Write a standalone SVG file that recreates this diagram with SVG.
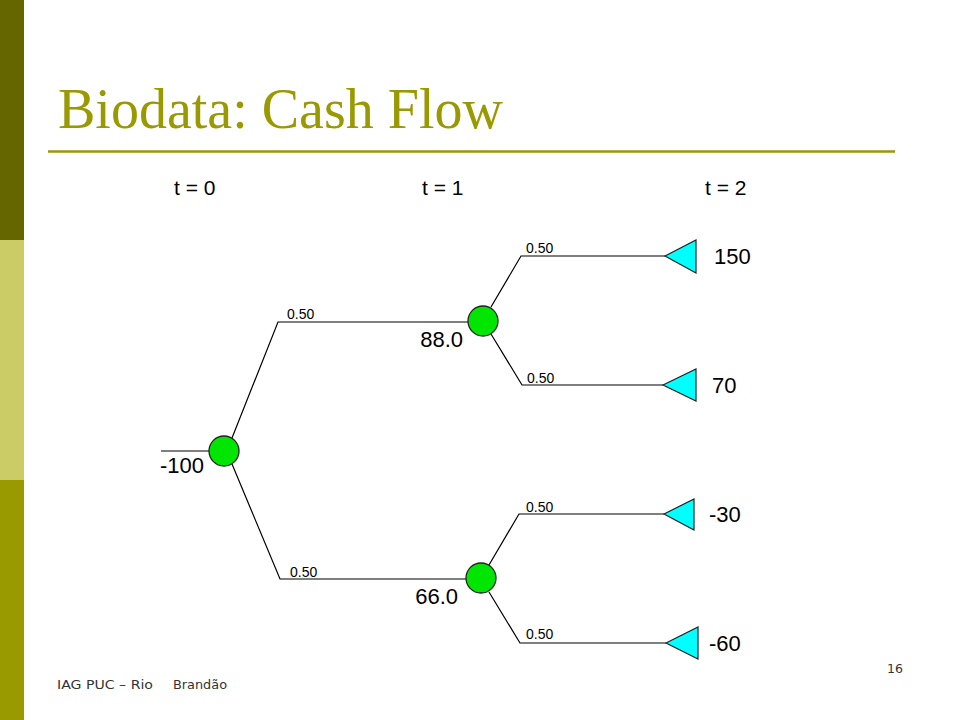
<svg xmlns="http://www.w3.org/2000/svg" width="960" height="720" viewBox="0 0 960 720">
<style>
.lbl{font-family:"Liberation Sans",Arial,sans-serif;fill:#000}
.big{font-size:22px}
.prob{font-size:14px}
.time{font-size:21px}
.foot{font-family:"DejaVu Sans",Tahoma,sans-serif;font-size:12.5px;fill:#333}
.edge{stroke:#000;stroke-width:1.2;fill:none}
.chance{fill:#00e600;stroke:#222;stroke-width:1.3}
.term{fill:#00ffff;stroke:#222;stroke-width:1.2}
</style>
<rect width="960" height="720" fill="#fff"/>
<rect x="0" y="0" width="24" height="240" fill="#666600"/>
<rect x="0" y="240" width="24" height="240" fill="#cccc66"/>
<rect x="0" y="480" width="24" height="240" fill="#999900"/>
<text x="58" y="128" font-family="'Liberation Serif','Times New Roman',serif" font-size="56" fill="#999900">Biodata: Cash Flow</text>
<line x1="48" y1="151.5" x2="895" y2="151.5" stroke="#999900" stroke-width="2.5"/>
<text class="lbl time" x="174" y="195">t = 0</text>
<text class="lbl time" x="422" y="195">t = 1</text>
<text class="lbl time" x="705" y="195">t = 2</text>

<g id="connectors">
<path class="edge" d="M161 451 H209"/>
<path class="edge" d="M232 438 L278 322 H468"/>
<path class="edge" d="M232 464 L280 579 H466"/>
<path class="edge" d="M491 307 L521 256 H665"/>
<path class="edge" d="M491 334 L522 385 H663"/>
<path class="edge" d="M489 565 L519 514 H664"/>
<path class="edge" d="M489 592 L520 643 H666"/>
</g>
<g id="probs">
<text class="lbl prob" x="287" y="319">0.50</text>
<text class="lbl prob" x="290" y="577">0.50</text>
<text class="lbl prob" x="526" y="253">0.50</text>
<text class="lbl prob" x="527" y="383">0.50</text>
<text class="lbl prob" x="526" y="512">0.50</text>
<text class="lbl prob" x="526" y="639">0.50</text>
</g>
<g id="root">
<circle class="chance" cx="224" cy="451" r="15"/>
<text class="lbl big" x="204" y="473" text-anchor="end">-100</text>
</g>
<g id="chance-up">
<circle class="chance" cx="483" cy="321" r="15"/>
<text class="lbl big" x="463" y="347" text-anchor="end">88.0</text>
</g>
<g id="chance-down">
<circle class="chance" cx="481" cy="578" r="15"/>
<text class="lbl big" x="458" y="604" text-anchor="end">66.0</text>
</g>
<g id="t150">
<polygon class="term" points="665,256 696,240 696,273"/>
<text class="lbl big" x="714" y="264">150</text>
</g>
<g id="t70">
<polygon class="term" points="663,385 696,369 696,401"/>
<text class="lbl big" x="712" y="393">70</text>
</g>
<g id="tm30">
<polygon class="term" points="664,514 694,499 694,530"/>
<text class="lbl big" x="709" y="522">-30</text>
</g>
<g id="tm60">
<polygon class="term" points="666,643 698,627 698,659"/>
<text class="lbl big" x="709" y="651">-60</text>
</g>
<text class="foot" x="57" y="689" textLength="96" lengthAdjust="spacingAndGlyphs">IAG PUC – Rio</text>
<text class="foot" x="173" y="689" textLength="54" lengthAdjust="spacingAndGlyphs">Brandão</text>
<text class="foot" x="903" y="673" text-anchor="end">16</text>
</svg>
